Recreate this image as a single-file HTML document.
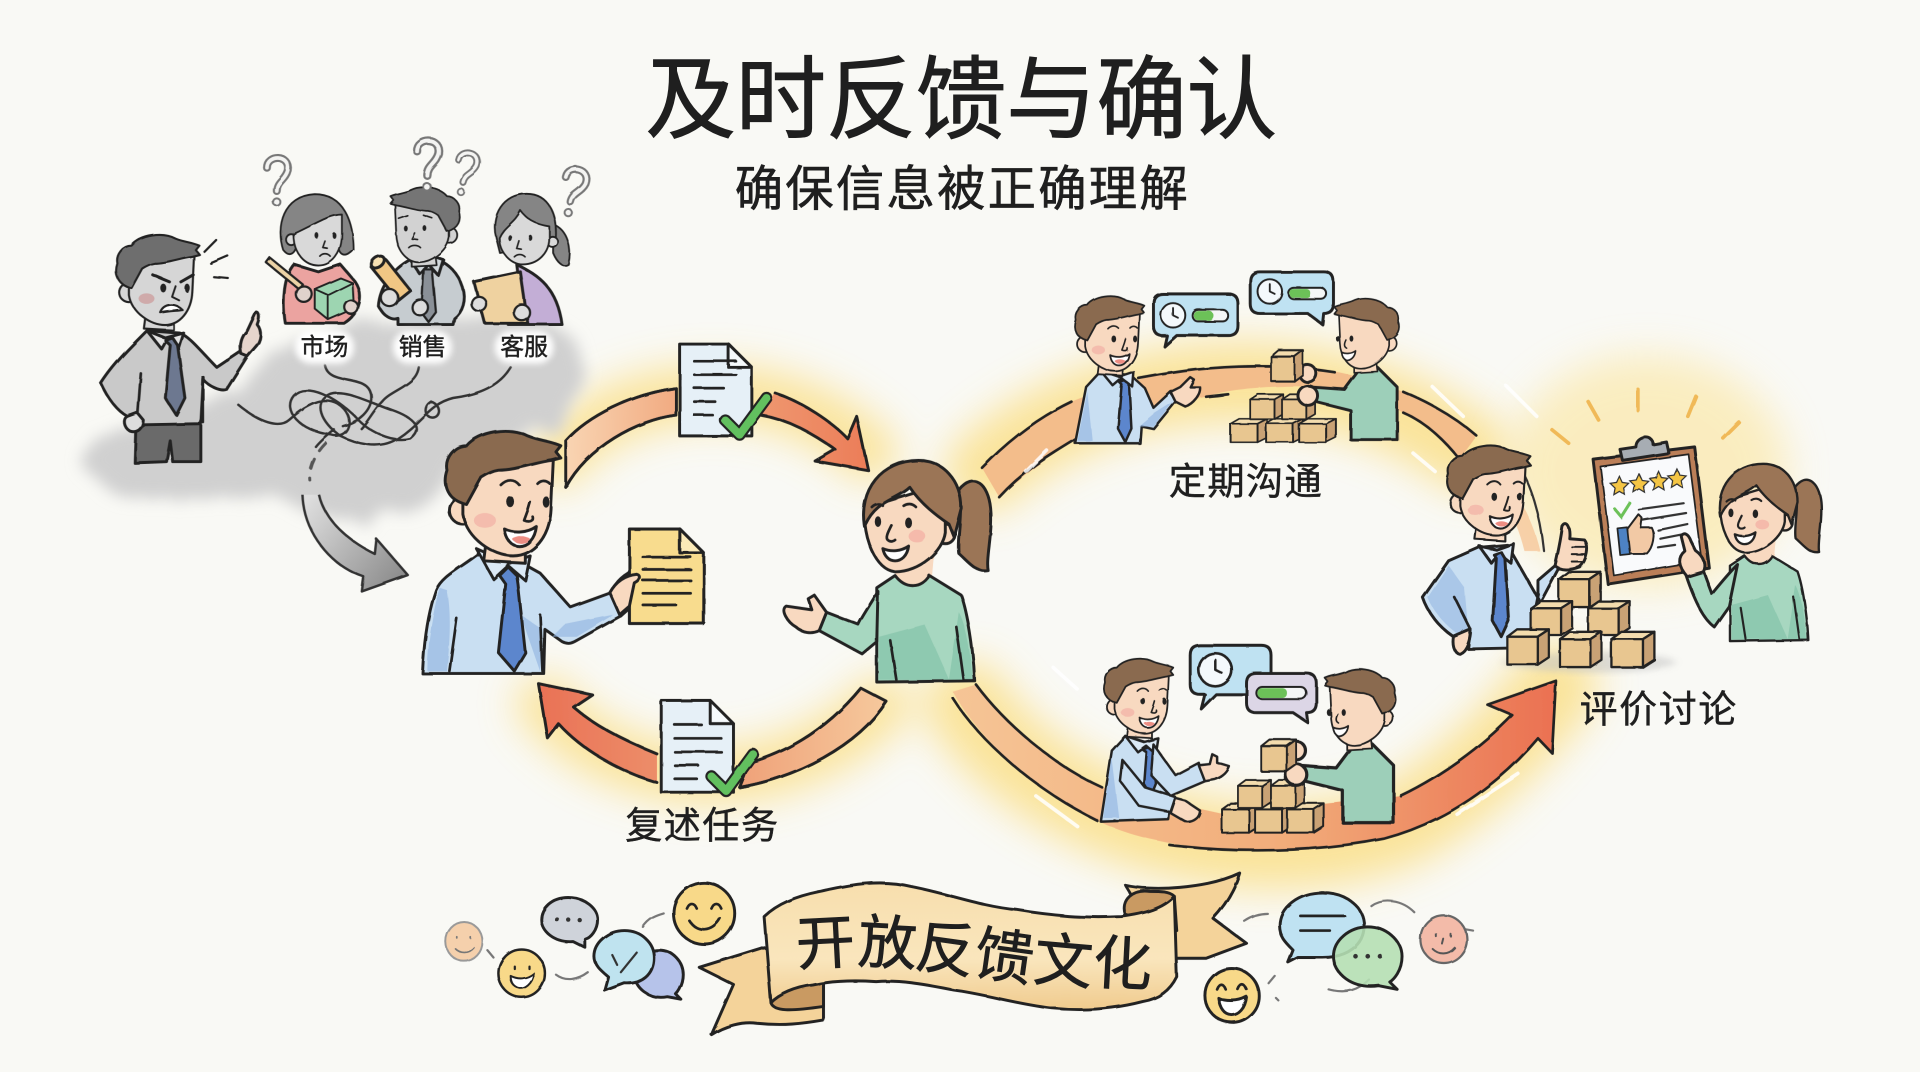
<!DOCTYPE html>
<html lang="zh">
<head>
<meta charset="utf-8">
<title>及时反馈与确认</title>
<style>
html,body{margin:0;padding:0;background:#f9f9f5;width:1920px;height:1072px;overflow:hidden}
svg{display:block}
text{font-family:"Liberation Sans","WenQuanYi Zen Hei","Noto Sans CJK SC",sans-serif;fill:#1f1f1f;text-anchor:middle;stroke:#1f1f1f;stroke-width:.35}
.ink{stroke:#222;stroke-width:2.4;stroke-linejoin:round;stroke-linecap:round}
.ln{fill:none;stroke:#222;stroke-width:2.2;stroke-linecap:round;stroke-linejoin:round}
.thin{fill:none;stroke:#333;stroke-width:1.8;stroke-linecap:round}
.sm .ink{stroke-width:2}
</style>
</head>
<body>
<svg xmlns="http://www.w3.org/2000/svg" width="1920" height="1072" viewBox="0 0 1568 875.5">
<defs>
<filter id="b16" x="-30%" y="-30%" width="160%" height="160%"><feGaussianBlur stdDeviation="16"/></filter>
<filter id="b6" x="-20%" y="-20%" width="140%" height="140%"><feGaussianBlur stdDeviation="2.5"/></filter>
<filter id="cloud" x="-20%" y="-20%" width="140%" height="140%">
 <feTurbulence type="fractalNoise" baseFrequency=".025" numOctaves="3" seed="4"/>
 <feDisplacementMap in="SourceGraphic" scale="26"/>
 <feGaussianBlur stdDeviation="6"/>
</filter>
<filter id="w" x="0" y="0" width="100%" height="100%" filterUnits="userSpaceOnUse" primitiveUnits="userSpaceOnUse">
 <feTurbulence type="fractalNoise" baseFrequency=".05" numOctaves="2" seed="2"/>
 <feDisplacementMap in="SourceGraphic" scale="1.6"/>
</filter>
<linearGradient id="or1" gradientUnits="userSpaceOnUse" x1="460" y1="380" x2="710" y2="380"><stop offset="0" stop-color="#f9d6b4"/><stop offset=".35" stop-color="#f2ad84"/><stop offset="1" stop-color="#ec7d58"/></linearGradient>
<linearGradient id="or2" gradientUnits="userSpaceOnUse" x1="720" y1="570" x2="440" y2="570"><stop offset="0" stop-color="#f6c89c"/><stop offset=".5" stop-color="#ee9a72"/><stop offset="1" stop-color="#ea7256"/></linearGradient>
<linearGradient id="or3" gradientUnits="userSpaceOnUse" x1="780" y1="600" x2="1270" y2="600"><stop offset="0" stop-color="#f6c596"/><stop offset=".55" stop-color="#f2ad7a"/><stop offset="1" stop-color="#eb7152"/></linearGradient>
<linearGradient id="gy" gradientUnits="userSpaceOnUse" x1="250" y1="410" x2="330" y2="475"><stop offset="0" stop-color="#dedede"/><stop offset="1" stop-color="#8b8b8b"/></linearGradient>
<linearGradient id="ban" x1="0" y1="0" x2="0" y2="1"><stop offset="0" stop-color="#f8dfae"/><stop offset=".6" stop-color="#fae6bd"/><stop offset="1" stop-color="#f0cb8e"/></linearGradient>
<g id="mh">
 <path class="ink" fill="var(--s)" d="M-14,40 L-16,56 L18,58 L18,40 Z"/>
 <circle cx="-33" cy="15" r="11" fill="var(--s)" class="ink"/>
 <path class="ink" fill="var(--s)" d="M-33,-18 L-33,18 C-30,38 -8,52 8,52 C25,52 38,36 39,14 L41,-30 Z"/>
 <path class="ink" fill="var(--h)" d="M-30,10 C-46,6 -50,-6 -46,-18 C-48,-28 -40,-38 -30,-38 C-20,-50 5,-54 20,-46 C30,-42 38,-42 47,-38 L43,-33 L47,-28 L39,-26 C25,-24 10,-18 -4,-18 C-10,-17 -15,-14 -18,-12 Z"/>
</g>
<g id="hf">
 <ellipse cx="-15" cy="23" rx="9" ry="6" fill="#f2a9a0" opacity=".6"/>
 <ellipse cx="6" cy="8" rx="3.2" ry="4.6" fill="#222"/><ellipse cx="35" cy="8" rx="2.8" ry="4.6" fill="#222"/>
 <path class="ln" d="M-2,-6 C3,-11 9,-11 13,-6 M28,-7 C31,-10 35,-10 38,-7"/>
 <path class="ln" d="M22,8 C20,16 18,20 17,23 C22,25 25,23 24,20"/>
 <path class="ink" fill="#fff" d="M1,30 C9,34 20,33 27,28 C26,38 20,44 13,44 C6,44 2,38 1,30 Z"/>
 <path fill="#ed8e84" d="M7,38 C11,35 17,35 22,38 C19,43 10,43 7,38 Z"/>
</g>
<g id="mb">
 <path class="ink" fill="var(--c)" d="M-20,50 C-35,62 -50,68 -55,80 C-62,100 -65,125 -66,148 L33,148 L34,112 L48,122 C52,124 55,124 60,121 L96,101 L88,82 L55,94 L30,66 L12,56 Z"/>
 <path fill="var(--cd)" opacity=".6" d="M-52,78 C-58,100 -62,125 -62,146 L-46,146 C-44,125 -42,100 -46,80 Z M14,100 L30,146 L32,112 Z M40,118 L60,118 L90,100 L50,108 Z"/>
 <path class="ln" d="M-44,146 L-38,103 M32,146 L30,100"/>
 <path class="ink" fill="var(--cl)" d="M-22,46 L-8,71 L4,60 L18,72 L22,52 L5,58 Z"/>
 <path class="ink" fill="var(--t)" d="M-3,68 L4,61 L11,68 L12,75 L18,131 L9,146 L-4,131 L2,75 Z"/>
</g>
<g id="mh2">
 <path class="ink" fill="var(--s)" d="M88,82 C92,72 100,66 110,62 L118,64 C116,70 110,72 108,76 C112,80 110,90 104,94 L96,101 Z"/>
 <path class="ln" d="M100,80 L112,72"/>
</g>
<g id="man"><use href="#mb"/><use href="#mh2"/><use href="#mh"/><use href="#hf"/></g>
<g id="wh">
 <path class="ink" fill="var(--h)" d="M38,-20 C50,-35 62,-25 64,-5 C66,15 60,35 62,46 C52,48 45,38 38,32 C36,20 42,0 38,-20 Z"/>
 <path fill="var(--s)" d="M-14,40 L-14,54 C-6,64 8,62 16,52 L18,30 Z"/>
 <circle cx="27" cy="16" r="8" fill="var(--s)" class="ink"/>
 <path class="ink" fill="var(--s)" d="M-39,-5 C-40,20 -30,45 -14,47 C6,47 25,30 27,15 L27,-25 Z"/>
 <path class="ink" fill="var(--h)" d="M-39,10 C-44,-20 -25,-44 5,-44 C25,-44 40,-28 40,-5 L34,18 L30,8 C18,0 6,-10 -2,-22 C-12,-12 -30,-12 -39,10 Z"/>
 <ellipse cx="4" cy="18" rx="7" ry="5" fill="#f2a9a0" opacity=".65"/>
 <ellipse cx="-28" cy="6" rx="2.6" ry="4.4" fill="#222"/><ellipse cx="-3" cy="7" rx="2.8" ry="4.4" fill="#222"/>
 <path class="ln" d="M-33,-6 C-30,-9 -26,-9 -24,-7 M-7,-7 C-4,-9 0,-9 3,-6"/>
 <path class="ln" d="M-17,9 C-20,15 -22,19 -20,21 C-18,23 -15,22 -14,21"/>
 <path class="ink" fill="#fff" d="M-24,28 C-17,31 -9,30 -3,26 C-4,34 -9,38 -14,38 C-19,38 -23,34 -24,28 Z"/>
</g>
<g id="wb">
 <path class="ink" fill="var(--c)" d="M-14,50 C-5,62 8,60 14,50 L40,66 C45,80 50,110 51,136 L-29,137 L-29,60 Z"/>
 <path fill="var(--cd)" opacity=".5" d="M-27,100 L-27,135 L49,135 C48,115 44,90 38,80 L30,135 L10,90 Z"/>
 <path class="ln" d="M-18,103 L-13,135 M36,92 L42,135"/>
</g>
<g id="wa">
 <path class="ink" fill="var(--c)" d="M-28,63 C-35,75 -42,85 -44,90 L-70,80 L-76,95 L-41,114 L-29,104 Z"/>
 <path class="ink" fill="var(--s)" d="M-70,80 L-80,66 L-85,69 L-82,78 L-103,75 C-108,78 -102,88 -95,92 C-90,97 -82,98 -76,95 Z"/>
</g>
<g id="boy">
 <path class="ink" fill="#9dcfb9" d="M7,28 L23,44 L23,87 L-15,87 L-15,63 L-43,56 L-48,44 L-20,46 L-8,30 Z"/>
 <circle cx="-50" cy="33" r="7" fill="#f8d9c0" class="ink"/><circle cx="-50" cy="51" r="8" fill="#f8d9c0" class="ink"/>
 <g transform="translate(-2,0) scale(-.56,.56)" style="--s:#f8d9c0;--h:#8a6a4f"><use href="#mh"/></g>
 <g transform="translate(-2,0) scale(.56)">
  <ellipse cx="-22" cy="8" rx="2.8" ry="4.5" fill="#222"/><ellipse cx="-42" cy="8" rx="2.6" ry="4.5" fill="#222"/>
  <path class="ln" d="M-30,10 C-33,16 -33,20 -29,22"/>
  <path class="ink" fill="#fff" d="M-36,28 C-30,31 -22,30 -16,26 C-17,36 -24,40 -29,40 C-33,38 -36,34 -36,28 Z"/>
 </g>
</g>
<g id="box">
 <polygon class="ink" style="stroke-width:1.6" fill="#f3dcae" points="0,5 7,0 30,0 22,5"/>
 <polygon class="ink" style="stroke-width:1.6" fill="#c9a274" points="22,5 30,0 30,19 22,24"/>
 <rect class="ink" style="stroke-width:1.6" fill="#e8c690" x="0" y="5" width="22" height="19"/>
</g>
<g id="clk"><circle r="10" fill="#f4f9fc" class="ink" style="stroke-width:1.6"/><path class="ln" style="stroke-width:1.5" d="M0,-6 L0,0 L4,2"/></g>
<path id="q" d="M-8,-9 C-8,-20 11,-20 9,-7 C7,1 0,2 0,10"/>
<g id="qq"><use href="#q" fill="none" stroke="#777" stroke-width="6.5" stroke-linecap="round"/><use href="#q" fill="none" stroke="#f4f4f2" stroke-width="3" stroke-linecap="round"/><circle cx="0" cy="19" r="3" fill="#f4f4f2" stroke="#777" stroke-width="1.6"/></g>
<g id="doc">
 <path class="ink" fill="#e6f0f7" d="M0,0 L40,0 L59,19 L59,75 L0,75 Z"/>
 <path class="ink" fill="#f6fafc" d="M40,0 L40,19 L59,19 Z"/>
</g>
<path id="chk" d="M0,12 L12,24 L34,-6"/>
</defs>

<rect width="1568" height="876" fill="#f9f9f5"/>

<!-- glows -->
<g fill="none" stroke="#fbe08a" stroke-linecap="round" filter="url(#b16)" opacity=".85">
 <path stroke-width="46" d="M455,375 C500,315 630,295 710,370"/>
 <path stroke-width="46" d="M445,575 C510,650 640,655 720,575"/>
 <path stroke-width="66" d="M805,385 C880,315 1060,270 1200,370"/>
 <path stroke-width="70" d="M790,575 C860,680 1040,720 1150,670 C1200,640 1240,600 1270,560"/>
</g>
<ellipse cx="1345" cy="385" rx="115" ry="95" fill="#fbe59c" opacity=".6" filter="url(#b16)"/>

<!-- grey cloud -->
<path filter="url(#cloud)" fill="#d0d0d0" d="M72,368 C85,335 170,350 215,300 C245,262 340,250 440,262 C480,270 490,310 460,335 C430,360 390,375 360,400 C330,425 290,432 260,420 C240,410 210,405 180,405 C120,415 60,400 72,368 Z"/>

<g filter="url(#w)">
<!-- left ring -->
<path class="ink" fill="url(#or1)" stroke="none" d="M462,360 C480,340 515,322 552,317 L552,339 C520,343 480,365 462,398 Z"/>
<path class="ln" d="M462,360 C480,340 515,322 552,317 M552,339 C520,343 480,365 462,398"/>
<path class="ink" fill="url(#or1)" d="M633,321 C655,328 680,345 692,358 L699.6,340 L709,384 L665.6,376.5 L682,367 C665,355 645,343 621,339"/>
<path class="ink" fill="url(#or2)" stroke="none" d="M703,562 C680,590 650,612 612,623 L604,643 C650,635 700,610 724,573 Z"/>
<path class="ln" d="M703,562 C680,590 650,612 612,623 M604,643 C650,635 700,610 724,573"/>
<path class="ink" fill="url(#or2)" d="M536.5,615.7 C510,605 485,592 468.7,577.8 L484,567.6 L439.7,558.3 L447,602.6 L456,591 C475,612 505,630 536.5,639"/>

<!-- right ring top -->
<path fill="#f3bd8b" d="M802,382 C825,358 850,340 875,328 C930,306 985,298 1040,298 C1075,298 1110,306 1146,320 C1170,330 1190,342 1206,356 L1192,375 C1180,360 1165,345 1146,337 C1120,322 1100,318 1077,316 C1040,314 1000,318 985,324 C940,332 905,342 878,359 C855,373 835,390 816,406 Z"/>
<path class="ln" d="M802,382 C825,358 850,340 875,328 M930,309 C985,298 1040,296 1090,304 M1146,320 C1170,330 1190,342 1206,356 M816,406 C835,385 855,373 878,359 M985,324 L1003,322 M1146,337 C1165,345 1180,360 1192,375"/>
<path fill="#f6c79a" opacity=".8" d="M1220,385 C1240,400 1252,425 1258,450 L1245,450 C1240,430 1232,410 1215,395 Z"/>
<path class="thin" stroke="#777" d="M1240,380 C1250,395 1258,420 1261,450"/>
<!-- white streaks -->
<g fill="none" stroke="#fff" stroke-width="3" stroke-linecap="round" opacity=".85">
 <path d="M838,385 L855,368 M1170,316 L1195,340 M1154,370 L1172,385 M860,545 L880,563 M1205,620 L1225,602 M1190,665 L1240,632 M846,650 L880,675 M1230,315 L1255,340"/>
</g>
<!-- right ring bottom -->
<path fill="url(#or3)" d="M1143.8,649.8 C1175,635 1210,610 1235,584 L1214.8,575.5 L1270.7,556 L1267.5,615 L1256,603 C1225,640 1180,672 1130,685 C1060,698 960,700 900,672 C860,650 810,620 778,565 L797,559 C820,590 860,625 900,643 L1000,665 Z"/>
<path class="ln" d="M1143.8,649.8 C1175,635 1210,610 1235,584 L1214.8,575.5 L1270.7,556 L1267.5,615 L1256,603 C1225,640 1180,672 1130,685 C1075,696 1010,697 955,690 M900,643 C860,625 820,590 797,559 M778,570 C800,605 845,645 896,670"/>

<!-- main man -->
<g transform="translate(411,402)" style="--s:#f8d9c0;--h:#8a6a4f;--c:#c9dff2;--cd:#8fb3e0;--cl:#dbe9f6;--t:#5c86cd"><use href="#man"/></g>
<!-- yellow doc -->
<g transform="translate(514,432) scale(1.03,1.03)">
 <path class="ink" fill="#f8dc8e" d="M0,0 L40,0 L59,19 L59,75 L0,75 Z"/>
 <path class="ink" fill="#fbeab8" d="M40,0 L40,19 L59,19 Z"/>
</g>
<path class="ln" d="M525,455 L564,455 M525,465 L564,465 M525,474 L564,474 M525,484.5 L564,484.5 M525,494 L552,494"/>
<path class="ink" fill="#f8d9c0" d="M498,484 C503,475 510,470 520,469 C524,470 522,474 518,476 L514,495 L506,502 Z"/>

<!-- main woman -->
<g transform="translate(745,420)" style="--s:#f8d9c0;--h:#9b7456;--c:#a7d7c0;--cd:#76bb9f">
 <use href="#wh"/><use href="#wb"/><use href="#wa"/>
 <g><circle cx="27" cy="16" r="0" fill="none"/></g>
</g>

<!-- docs with check -->
<g transform="translate(555,281)"><use href="#doc"/><path class="ln" d="M12,14 L46,14 M12,25 L46,25 M12,36 L36,36 M12,47 L29,47 M12,58 L27,58"/></g>
<g transform="translate(592,331)"><use href="#chk" fill="none" stroke="#222" stroke-width="10" stroke-linejoin="round" stroke-linecap="round"/><use href="#chk" fill="none" stroke="#62c05e" stroke-width="6.5" stroke-linejoin="round" stroke-linecap="round"/></g>
<g transform="translate(540,572)"><use href="#doc"/><path class="ln" d="M11,20 L33,20 M11,31 L49,31 M11,42 L49,42 M11,53 L30,53 M11,64 L29,64"/></g>
<g transform="translate(581,622)"><use href="#chk" fill="none" stroke="#222" stroke-width="10" stroke-linejoin="round" stroke-linecap="round"/><use href="#chk" fill="none" stroke="#62c05e" stroke-width="6.5" stroke-linejoin="round" stroke-linecap="round"/></g>

<!-- tangle -->
<path fill="none" stroke="#333" stroke-width="2" stroke-linecap="round" stroke-linejoin="round" d="M195,331 C212,345 228,350 236,343 C245,335 262,322 276,330 C292,340 285,360 270,355 C245,352 230,335 240,323 C250,312 275,325 290,340 C300,352 320,362 335,358 C345,350 340,342 320,335 C300,328 282,318 270,322 C255,328 262,345 278,356 C290,362 310,368 325,358 C345,345 350,330 370,325 C392,322 408,315 417,300 M265,298 C268,315 300,305 303,322 C305,335 292,345 280,348 M342,300 C340,315 320,318 312,328 C305,335 300,345 295,350 M352,328 C345,332 347,341 353,341 C360,341 361,331 352,328 M273,351 C268,355 262,360 258,365"/>
<path fill="none" stroke="#555" stroke-width="2.4" stroke-linecap="round" stroke-dasharray="8 8" d="M266,362 C258,370 252,382 253,392"/>
<path fill="url(#gy)" d="M260.5,404 C265,425 285,442 305.7,452 L307,439.7 L333,469.6 L295.5,483 L297,471 C270,462 248,435 247,404 Z"/>
<path fill="none" stroke="#333" stroke-width="2" stroke-linejoin="round" d="M260.5,404 C265,425 285,442 305.7,452 L307,439.7 L333,469.6 L295.5,483 L297,471 C270,462 248,435 247,404"/>

<!-- angry man -->
<g style="--s:#d6d6d6;--h:#6e6e6e">
 <path class="ink" fill="#6a6a6a" d="M111,346 L164,346 L164,377 L141,377 L139,360 L136,377 L110,378 Z"/>
 <path class="ink" fill="#c9c9c9" d="M120,270 C105,285 92,298 82.5,313 C88,325 95,335 104,340 L112,347 L164,346 L166,310 C170,315 180,320 185,318 L202,291 L198,286 L177,300 C165,288 155,275 147,272 Z"/>
 <path class="ln" d="M112,345 L115,305 M166,345 L166,308"/>
 <path class="ink" fill="#e4e4e4" d="M120,270 L132,285 L136,278 L146,285 L150,272 L135,276 Z"/>
 <path class="ink" fill="#6d7890" d="M135,278 L141,276 L145,282 L151,325 L144,339 L135,325 L139,282 Z"/>
 <path class="ink" fill="#ddd" d="M104,340 C100,342 101,349 106,352 C112,354 117,350 117,343 L112,337 Z"/>
 <path class="ink" fill="#e6d5cc" d="M197,289 C195,280 198,274 202,270 L209,255 C212,255 212,260 210,265 C214,270 214,278 208,284 L202,291 Z"/>
 <g transform="translate(129,228) scale(.72)">
  <use href="#mh"/>
  <ellipse cx="-13" cy="22" rx="9" ry="6" fill="#c98c8c" opacity=".6"/>
  <ellipse cx="6" cy="10" rx="3.4" ry="5" fill="#222"/><ellipse cx="33" cy="10" rx="3" ry="5" fill="#222"/>
  <path class="ln" style="stroke-width:3.4" d="M-6,-5 L13,3 M40,-5 L26,3"/>
  <path class="ln" d="M20,8 L16,20 L24,24"/>
  <path class="ink" fill="#fff" d="M3,38 C7,28 20,27 28,35 C22,36 12,36 3,38 Z"/>
 </g>
 <path class="ln" d="M167,205.6 L176.5,196 M172,215 L186,209 M174.4,226 L186,227" style="stroke-width:1.8"/>
</g>

<!-- team (grey) -->
<g>
 <path class="ink" fill="#eba3a0" d="M240,216 C232,225 230,245 233,264 L281,264 C295,255 297,240 290,230 L278,216 L260,222 Z"/>
 <g style="--s:#d9d9d9;--h:#858585"><g transform="translate(260,188) scale(.6,.64)">
  <path class="ink" fill="var(--h)" d="M-48,25 C-58,-5 -48,-44 -5,-46 C35,-46 48,-10 48,25 C35,38 28,30 28,20 L-30,20 C-32,30 -40,35 -48,25 Z"/>
  <circle cx="-37" cy="12" r="7" fill="var(--s)" class="ink"/>
  <path class="ink" fill="var(--s)" d="M-34,5 C-34,30 -18,45 0,45 C18,45 32,30 32,5 L32,-20 C15,-20 0,-10 -34,5 Z"/>
  <ellipse cx="-2" cy="7" rx="2.6" ry="4" fill="#222"/><ellipse cx="22" cy="7" rx="2.6" ry="4" fill="#222"/>
  <path class="ln" d="M9,14 L6,22 L12,23 M2,33 C6,29 12,29 16,33"/>
 </g></g>
 <polygon class="ink" style="stroke-width:1.6" fill="#9dd5b1" points="257,236 278,227 288,231 289,252 268,261 257,252"/>
 <path class="ln" style="stroke-width:1.5" d="M257,236 L268,241 L268,261 M268,241 L288,231"/>
 <path class="ink" fill="#ecd3a6" style="stroke-width:1.8" d="M217,214 L220,210 L247,232 L244,236 Z"/>
 <circle cx="248" cy="240" r="6.5" fill="#e0d2cc" class="ink" style="stroke-width:1.8"/><circle cx="287" cy="251" r="5.5" fill="#e0d2cc" class="ink" style="stroke-width:1.8"/>

 <path class="ink" fill="#c6ccd0" d="M335,212 C320,220 310,235 309,250 C313,258 320,262 325,260 L325,265 L370,265 L371,260 C378,255 381,245 378,235 C374,222 365,215 358,212 Z"/>
 <path class="ink" fill="#d2d8dc" d="M335,212 L343,224 L350,216 L358,225 L362,212 L350,208 Z"/>
 <path class="ink" fill="#8a9097" style="stroke-width:1.8" d="M346,220 L353,220 L356,255 L350,263 L344,255 Z"/>
 <g style="--s:#d2d2d2;--h:#747474"><g transform="translate(347,183) scale(-.6,.6)"><use href="#mh"/></g>
 <g transform="translate(347,183) scale(.6)">
  <ellipse cx="-26" cy="6" rx="2.6" ry="4" fill="#222"/><ellipse cx="0" cy="6" rx="2.6" ry="4" fill="#222"/>
  <path class="ln" d="M-36,-8 L-24,-12 M-2,-12 L10,-8 M-14,12 L-18,20 L-10,21 M-22,32 C-18,28 -10,28 -6,32"/>
 </g></g>
 <path class="ink" fill="#f0c684" d="M303,218 C305,211 312,208 316,213 L335,237 L325,245 Z"/>
 <ellipse cx="308.5" cy="214" rx="6" ry="4" fill="#f7e1b3" class="ink" transform="rotate(-38 308.5 214)"/>
 <circle cx="318" cy="243" r="7" fill="#ddd" class="ink" style="stroke-width:1.8"/><circle cx="343" cy="251" r="6.5" fill="#ddd" class="ink" style="stroke-width:1.8"/>

 <path class="ink" fill="#c3aed6" d="M422,216 C440,225 455,235 459,265 L415,265 L425,240 Z"/>
 <g style="--s:#d9d9d9;--h:#858585"><g transform="translate(430,188) scale(.62)">
  <path class="ink" fill="var(--h)" d="M35,-8 C55,0 60,25 55,45 C48,50 40,42 35,30 Z"/>
  <path class="ink" fill="var(--h)" d="M-40,10 C-48,-20 -30,-48 0,-48 C30,-48 42,-20 38,18 L-35,30 Z"/>
  <circle cx="34" cy="15" r="7" fill="var(--s)" class="ink"/>
  <path class="ink" fill="var(--s)" d="M-36,10 C-36,30 -20,45 -5,45 C15,45 30,30 30,10 L30,-5 C10,-8 0,-15 -8,-26 C-15,-10 -30,-5 -36,10 Z"/>
  <ellipse cx="-22" cy="10" rx="2.6" ry="4" fill="#222"/><ellipse cx="5" cy="10" rx="2.6" ry="4" fill="#222"/>
  <path class="ln" d="M-10,14 L-13,24 L-7,25 M-16,35 C-12,31 -6,31 -2,35"/>
 </g></g>
 <path class="ink" fill="#efd2a0" d="M387,230 L425,222 L431,264 L396,264 Z"/>
 <circle cx="391" cy="248" r="6" fill="#ddd" class="ink" style="stroke-width:1.8"/><circle cx="426" cy="255" r="6.5" fill="#ddd" class="ink" style="stroke-width:1.8"/>
 <g transform="translate(226,146)"><use href="#qq"/></g>
 <g transform="translate(349,133) scale(1.05)"><use href="#qq"/></g>
 <g transform="translate(380,140) rotate(12) scale(.9)"><use href="#qq"/></g>
 <g transform="translate(468,155) rotate(12)"><use href="#qq"/></g>
</g>

<!-- top man & boy -->
<g class="sm" transform="translate(906,272)" style="--s:#f8d9c0;--h:#8a6a4f;--c:#c9dff2;--cd:#8fb3e0;--cl:#dbe9f6;--t:#5c86cd">
 <path class="ink" fill="var(--c)" d="M-7,31 L-19,44 L-28,90 L25,90 L26,76 L36,78 L54,56 L50,48 L36,61 L29,45 L18,35 Z"/>
 <path fill="var(--cd)" opacity=".6" d="M-18,48 L-26,88 L-14,88 Z M24,76 L36,76 L52,56 L36,66 Z"/>
 <path class="ink" fill="var(--s)" d="M50,48 L58,44 L66,36 L69,38 L66,44 L74,44 C75,50 68,58 62,60 L54,56 Z"/>
 <path class="ink" fill="var(--t)" d="M8,40 L13,38 L16,41 L18,78 L13,89 L7,78 L10,42 Z"/>
 <path class="ink" fill="var(--cl)" d="M-7,31 L3,43 L10,37 L19,44 L20,32 L8,36 Z"/>
 <g transform="scale(.6)"><use href="#mh"/><use href="#hf"/></g>
</g>
<use href="#box" transform="translate(1005,342) scale(1,.8)"/>
<use href="#box" transform="translate(1034,342) scale(1,.8)"/>
<use href="#box" transform="translate(1061,342) scale(1,.8)"/>
<use href="#box" transform="translate(1021,322) scale(.9,.85)"/>
<use href="#box" transform="translate(1047,322) scale(.9,.85)"/>
<use href="#boy" transform="translate(1118,272)"/>
<use href="#box" transform="translate(1038,286) scale(.87,1.05)"/>
<!-- top bubbles -->
<path class="ink" fill="#bfe2f2" d="M950,240 L1003,240 Q1011,240 1011,248 L1011,266 Q1011,274 1003,274 L961,274 L951,283 L953,274 L950,274 Q942,274 942,266 L942,248 Q942,240 950,240 Z"/>
<use href="#clk" transform="translate(958,257.5)"/>
<rect x="974" y="253" width="29" height="9.5" rx="4.5" fill="#f4f6f6" class="ink" style="stroke-width:1.6"/><rect x="975" y="254" width="16" height="7.5" rx="3.5" fill="#6cc159"/>
<path class="ink" fill="#bfe2f2" d="M1029,222 L1081,222 Q1089,222 1089,230 L1089,248 Q1089,256 1081,256 L1080,265 L1068,256 L1029,256 Q1021,256 1021,248 L1021,230 Q1021,222 1029,222 Z"/>
<use href="#clk" transform="translate(1037,238)"/>
<rect x="1052" y="235" width="31" height="9" rx="4.5" fill="#f4f6f6" class="ink" style="stroke-width:1.6"/><rect x="1053" y="236" width="17" height="7" rx="3" fill="#6cc159"/>

<!-- bottom group -->
<g class="sm" transform="translate(930,568)" style="--s:#f8d9c0;--h:#8a6a4f;--c:#c9dff2;--cd:#8fb3e0;--cl:#dbe9f6;--t:#5c86cd">
 <path class="ink" fill="var(--c)" d="M-11,33 L-22,45 L-31,103 L24,101 L26,82 L10,60 L12,40 Z"/>
 <path fill="var(--cd)" opacity=".6" d="M-22,50 L-29,100 L-16,100 Z"/>
 <path class="ink" fill="var(--t)" d="M3,44 L9,42 L12,46 L14,72 L10,82 L4,72 L6,46 Z"/>
 <path class="ink" fill="var(--cl)" d="M-11,33 L-1,46 L6,41 L14,48 L16,35 L4,38 Z"/>
 <path class="ink" fill="var(--c)" d="M12,40 L30,65 L49,55 L54,70 L26,82 L10,65 Z"/>
 <path class="ink" fill="var(--c)" d="M-13,53 L5,75 L30,83 L26,95 L0,90 L-15,70 Z"/>
 <path class="ink" fill="var(--s)" d="M49,57 L58,56 L60,48 L64,50 L64,55 L74,58 C72,64 66,68 60,69 L54,70 Z"/>
 <path class="ink" fill="var(--s)" d="M30,84 L38,86 L50,94 C50,100 44,104 38,103 L26,96 Z"/>
 <g transform="scale(.6)"><use href="#mh"/><use href="#hf"/></g>
</g>
<use href="#box" transform="translate(998,656)"/>
<use href="#box" transform="translate(1025,656)"/>
<use href="#box" transform="translate(1051,656)"/>
<use href="#box" transform="translate(1011,637) scale(.9,.95)"/>
<use href="#box" transform="translate(1038,637) scale(.9,.95)"/>
<use href="#boy" transform="translate(1113,577) scale(1.09)"/>
<use href="#box" transform="translate(1030,604) scale(.95,1.08)"/>
<path class="ink" fill="#bfe2f2" d="M980,527 L1030,527 Q1038,527 1038,535 L1038,559 Q1038,567 1030,567 L993,567 L981,579 L984,567 L980,567 Q972,567 972,559 L972,535 Q972,527 980,527 Z"/>
<use href="#clk" transform="translate(992.5,547) scale(1.35)"/>
<path class="ink" fill="#dcd6e6" d="M1026,550 L1067,550 Q1075,550 1075,558 L1075,574 Q1075,582 1067,582 L1068,590 L1056,582 L1026,582 Q1018,582 1018,574 L1018,558 Q1018,550 1026,550 Z"/>
<rect x="1026" y="561" width="41" height="10" rx="5" fill="#f4f6f6" class="ink" style="stroke-width:1.6"/><rect x="1027" y="562" width="24" height="8" rx="3.5" fill="#6cc159"/>

<!-- right group -->
<path fill="#c0c0c0" opacity=".5" filter="url(#b6)" d="M1225,541 C1260,530 1350,530 1370,541 C1350,552 1250,552 1225,541 Z"/>
<g style="--s:#f8d9c0;--h:#8a6a4f">
 <path class="ink" fill="#c9dff2" d="M1208,447 L1183,458 L1162,488 C1166,500 1175,512 1187,520 L1199,530 L1247,529 L1256,485 L1256,474 L1270,462 L1274,462 L1258,492 L1231,445 Z"/>
 <path fill="#8fb3e0" opacity=".55" d="M1183,462 L1166,488 C1170,498 1178,508 1188,516 L1200,526 L1196,480 Z"/>
 <path class="ink" fill="#f8d9c0" d="M1187,520 C1186,526 1187,533 1192,534 C1198,532 1201,522 1201,514 Z"/>
 <path class="ln" d="M1188,488 L1201,514 L1199,530"/>
 <path class="ink" fill="#dbe9f6" d="M1208,446 L1218,460 L1224,452 L1234,460 L1236,444 L1222,449 Z"/>
 <path class="ink" fill="#5c86cd" d="M1220,453 L1226,451 L1229,456 L1232,507 L1226,520 L1219,507 L1222,456 Z"/>
 <g transform="translate(1216,400) scale(.72)"><use href="#mh"/><use href="#hf"/></g>
 <path class="ink" fill="#f8d9c0" d="M1270,462 C1272,452 1274,445 1276,430 C1279,425 1283,430 1282,440 L1294,441 C1298,446 1296,458 1290,463 C1282,466 1274,466 1270,462 Z"/>
 <path class="ln" style="stroke-width:1.6" d="M1284,447 L1295,447 M1284,453 L1295,453 M1284,459 L1292,459"/>
</g>
<!-- clipboard -->
<polygon class="ink" fill="#bb7f58" points="1301,375 1384,365 1396,464 1313,477"/>
<polygon class="ink" style="stroke-width:1.4" fill="#f9fafc" points="1307,381 1379,371 1390,458 1318,470"/>
<path class="ink" fill="#a7adb3" d="M1325,376 L1323,367 L1336,365 C1336,356 1350,354 1350,363 L1361,361 L1363,370 Z"/>
<g fill="#f4c544" stroke="#333" stroke-width="1">
 <polygon id="st" points="1322.5,389 1324.8,394 1330,394.7 1326,398.6 1327,404 1322.5,401.3 1318,404 1319,398.6 1315,394.7 1320.2,394"/>
 <use href="#st" x="16" y="-2"/><use href="#st" x="32" y="-4"/><use href="#st" x="47" y="-6"/>
</g>
<path fill="none" stroke="#6cc159" stroke-width="2.5" stroke-linecap="round" d="M1319,416 L1324,422 L1331,411"/>
<path class="thin" d="M1338,416 L1375,411 M1340,425 L1377,419 M1354,433 L1378,428 M1356,440 L1376,436 M1354,447 L1368,445"/>
<path class="ink" fill="#f2c9a5" style="stroke-width:1.6" d="M1329,432 L1338,420 L1341,423 L1340,431 L1349,431 C1352,436 1350,447 1345,452 L1329,452 Z"/>
<rect x="1322" y="431" width="8" height="22" fill="#4e82c4" class="ink" style="stroke-width:1.4" transform="rotate(-6 1326 442)"/>
<g style="--s:#f8d9c0;--h:#9b7456;--c:#a7d7c0;--cd:#76bb9f">
 <g transform="translate(1436,414) scale(.8)"><use href="#wh"/><use href="#wb"/></g>
 <path class="ink" fill="#a7d7c0" d="M1419,461 C1410,470 1404,478 1398,485 L1391,466 L1377,470 C1382,485 1390,505 1400,512 L1412,495 Z"/>
 <path class="ink" fill="#f8d9c0" d="M1378,471 C1370,462 1370,455 1376,450 L1373,438 C1375,434 1379,436 1381,442 L1385,450 C1392,455 1394,462 1391,467 Z"/>
</g>
<!-- pyramid -->
<use href="#box" transform="translate(1273,467) scale(1.13,1.2)"/>
<use href="#box" transform="translate(1250,491) scale(1.13,1.15)"/>
<use href="#box" transform="translate(1297,491) scale(1.13,1.15)"/>
<use href="#box" transform="translate(1231,514) scale(1.13,1.2)"/>
<use href="#box" transform="translate(1274,516) scale(1.13,1.2)"/>
<use href="#box" transform="translate(1316,516) scale(1.17,1.2)"/>
<!-- rays -->
<path fill="none" stroke="#f0b958" stroke-width="3" stroke-linecap="round" d="M1267.5,351 L1281,362 M1297,328 L1305.5,343 M1337.6,318 L1337.6,335 M1385,323.7 L1378.4,340 M1420,344.7 L1407,357.6"/>

<!-- banner -->
<path class="ink" fill="#f4d39a" d="M624,773.6 L571,790 L599,804 L581,845 C592,838 606,834 618,835.7 C640,838 655,836 672.5,833 L672.5,804 Z"/>
<path class="ink" fill="#f4d39a" d="M919,723 C940,728 985,726 1012.4,713 C1008,728 1000,740 990.6,750 L1018,770.4 L985,782.6 L955,782.6 Z"/>
<path class="ink" fill="#c99a62" d="M919,747 C915,735 925,726 939,728 C948,728 955,728 959,732 L961,760 Z"/>
<path class="ink" fill="#c99a62" d="M629.6,819 C632,826 645,826 672.5,822 L672.5,800 L640,805 Z"/>
<path class="ink" fill="url(#ban)" d="M624,748.6 C635,738 650,732 669.7,728 C695,722 720,718 744,724 C775,730 800,740 830,743 C860,748 885,750 916,748.6 C935,746 950,742 959,732 L961,797.6 C955,810 945,816 933,818 C910,824 885,826 859,823.4 C830,820 805,812 778.6,808.5 C755,804 735,800 715.5,801.7 C690,800 675,802 664,804.4 C650,806 636,812 629.6,819 Z"/>

<!-- emoji & bubbles -->
<g>
 <path fill="none" stroke="#777" stroke-width="1.8" stroke-linecap="round" d="M398,776 L403,782 M454,796 C462,802 472,800 480,794 M525,757 C530,750 535,748 542,746 M1016,752 C1022,748 1028,746 1035,746 M1120,740 C1130,733 1145,735 1155,745 M1118,800 C1110,808 1100,812 1085,808 M1036,803 L1041,797 M1042,815 L1044,817 M1197,759 L1203,760"/>
 <ellipse cx="379" cy="769" rx="15" ry="16" fill="#f5d0ac" stroke="#999" stroke-width="1.6"/>
 <path fill="none" stroke="#777" stroke-width="1.4" stroke-linecap="round" d="M372,775 C376,779 383,779 387,774 M373,765 L373,766 M384,765 L384,766"/>
 <ellipse cx="426" cy="795" rx="19" ry="19.5" fill="#f8d989" class="ink" style="stroke-width:2"/>
 <path class="ln" style="stroke-width:1.8" d="M420,789 L420,791 M432,789 L432,791"/>
 <path class="ink" style="stroke-width:1.6" fill="#fff" d="M417,797 C423,800 430,800 436,795 C435,804 428,808 424,807 C420,806 417,803 417,797 Z"/>
 <ellipse cx="575" cy="746" rx="25" ry="25" fill="#f8d989" class="ink"/>
 <path class="ln" d="M561,742 C563,737 567,737 569,742 M581,742 C583,737 587,737 589,742 M563,752 C569,762 582,761 588,750"/>
 <path class="ink" fill="#cfd3da" d="M464,733 C478,733 488,742 488,751 C488,760 482,766 478,767 L478,774 L468,769 C452,770 442,760 442,751 C442,742 450,733 464,733 Z"/>
 <circle cx="455" cy="751" r="1.8" fill="#333"/><circle cx="464" cy="751" r="1.8" fill="#333"/><circle cx="473" cy="751" r="1.8" fill="#333"/>
 <path class="ink" fill="#b6c3ea" d="M538,776 C550,776 558,786 558,796 C558,806 552,812 552,812 L556,816 L545,814 C530,817 518,806 518,796 C518,786 526,776 538,776 Z"/>
 <path class="ink" fill="#bfe3ef" d="M510,760 C524,760 534,770 534,782 C534,796 524,804 510,803 L494,809 L497,798 C490,792 485,788 485,781 C485,770 496,760 510,760 Z"/>
 <path class="thin" d="M500,780 L504,788 M507,794 L520,778"/>
 <path class="ink" fill="#bfe2f2" d="M1080,729 C1100,729 1114,741 1114,756 C1114,772 1100,782 1080,782 L1060,782 L1052,786 L1056,776 C1050,770 1045,765 1045,756 C1045,741 1060,729 1080,729 Z"/>
 <path class="ln" d="M1062,748 L1098,748 M1062,760 L1086,760"/>
 <path class="ink" fill="#b5dfb4" fill-opacity=".9" d="M1117,757 C1132,757 1145,768 1145,781 C1145,793 1138,800 1135,802 L1141,808 L1126,805 C1104,808 1089,795 1089,781 C1089,768 1102,757 1117,757 Z"/>
 <circle cx="1107" cy="781" r="1.9" fill="#333"/><circle cx="1117" cy="781" r="1.9" fill="#333"/><circle cx="1127" cy="781" r="1.9" fill="#333"/>
 <ellipse cx="1006" cy="813" rx="22" ry="22" fill="#f8d989" class="ink"/>
 <path class="ln" d="M994,808 C996,803 999,803 1001,808 M1011,808 C1013,803 1016,803 1018,808"/>
 <path class="ink" fill="#fff" d="M995,815 C1001,818 1011,818 1018,814 C1017,824 1011,829 1006,829 C1000,829 996,823 995,815 Z"/>
 <ellipse cx="1179" cy="767" rx="19" ry="19.5" fill="#f3bba9" stroke="#666" stroke-width="1.8"/>
 <path fill="none" stroke="#555" stroke-width="1.6" stroke-linecap="round" d="M1170,775 C1175,780 1183,780 1188,774 M1173,763 L1173,765 M1185,763 L1185,765 M1179,767 L1178,771"/>
</g>
</g>

<!-- label pills -->
<g fill="#fff" filter="url(#b6)">
 <rect x="241" y="270" width="48" height="27" rx="13"/><rect x="321" y="270" width="48" height="27" rx="13"/><rect x="404" y="270" width="48" height="27" rx="13"/>
</g>

<!-- text -->
<text x="785" y="107" font-size="74" textLength="516" lengthAdjust="spacing" style="stroke-width:.8">及时反馈与确认</text>
<text x="785" y="168" font-size="39.5" textLength="370" lengthAdjust="spacing" style="stroke-width:.5">确保信息被正确理解</text>
<text x="265" y="290" font-size="19.5">市场</text>
<text x="345" y="290" font-size="19.5">销售</text>
<text x="428" y="290" font-size="19.5">客服</text>
<text x="1017" y="404" font-size="30.5" textLength="125" lengthAdjust="spacing">定期沟通</text>
<text x="1354" y="590" font-size="31" textLength="128" lengthAdjust="spacing">评价讨论</text>
<text x="573" y="685" font-size="30.5" textLength="125" lengthAdjust="spacing">复述任务</text>
<g font-size="48">
 <text transform="translate(675,787) rotate(-3)" style="stroke-width:.6">开</text>
 <text transform="translate(724,787) rotate(3)" style="stroke-width:.6">放</text>
 <text transform="translate(770,792) rotate(8)" style="stroke-width:.6">反</text>
 <text transform="translate(818,798) rotate(8)" style="stroke-width:.6">馈</text>
 <text transform="translate(867,802) rotate(5)" style="stroke-width:.6">文</text>
 <text transform="translate(916,804) rotate(3)" style="stroke-width:.6">化</text>
</g>
</svg>
</body>
</html>
